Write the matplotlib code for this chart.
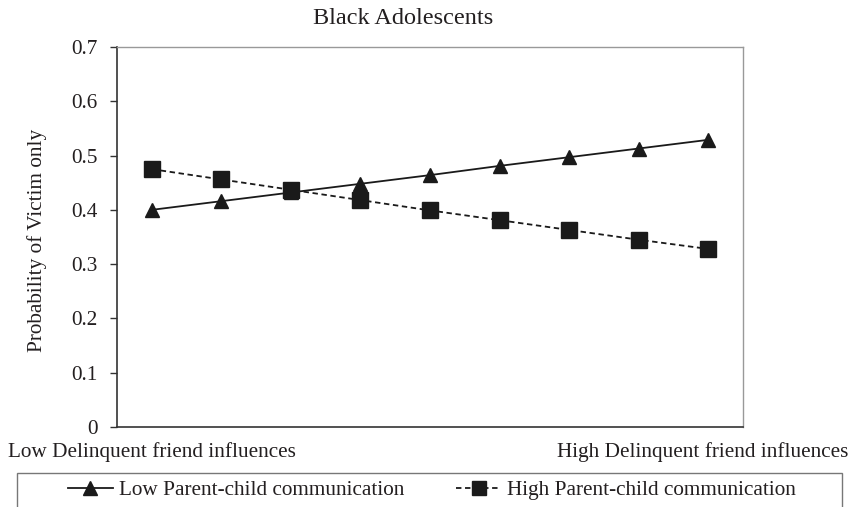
import matplotlib
matplotlib.use("Agg")
import matplotlib.pyplot as plt
from matplotlib.patches import Rectangle

# Data
x_positions = list(range(9))
low_comm = [0.400, 0.416, 0.432, 0.448, 0.464, 0.481, 0.497, 0.513, 0.529]
high_comm = [0.475, 0.456, 0.437, 0.418, 0.399, 0.381, 0.363, 0.345, 0.328]
series_labels = ["Low Parent-child communication", "High Parent-child communication"]
y_ticks = [0, 0.1, 0.2, 0.3, 0.4, 0.5, 0.6, 0.7]
y_tick_labels = ["0", "0.1", "0.2", "0.3", "0.4", "0.5", "0.6", "0.7"]
title = "Black Adolescents"
y_label = "Probability of Victim only"
x_left_label = "Low Delinquent friend influences"
x_right_label = "High Delinquent friend influences"

W, H = 855, 507
plt.rcParams['font.family'] = ['Liberation Serif', 'DejaVu Serif']
FS = 15.3
TFS = 17.5
TXT = "#231f20"
MK = "#1a1a1a"

fig = plt.figure(figsize=(W / 100, H / 100), dpi=100)
ax = fig.add_axes([117 / W, 1 - 427 / H, (743 - 117) / W, (427 - 47) / H])

l1, = ax.plot(x_positions, low_comm, color=MK, lw=1.3, marker="^", markersize=10.5,
              markerfacecolor=MK, markeredgecolor=MK, label=series_labels[0])
l2, = ax.plot(x_positions, high_comm, color=MK, lw=1.3, linestyle=(0, (3, 2)), marker="s",
              markersize=11, markerfacecolor=MK, markeredgecolor=MK, label=series_labels[1])

ax.set_xlim(-0.5, 8.5)
ax.set_ylim(0, 0.7)
ax.set_yticks(y_ticks)
ax.set_yticklabels(y_tick_labels, fontsize=FS, color=TXT)
ax.set_xticks([])
ax.tick_params(axis="y", length=5, width=1, color="#333333", pad=9, direction="out")

for s in ["left", "bottom"]:
    ax.spines[s].set_color("#333333")
    ax.spines[s].set_linewidth(1.2)
for s in ["top", "right"]:
    ax.spines[s].set_color("#999999")
    ax.spines[s].set_linewidth(1.0)

fig.text(403 / W, 1 - 18 / H, title, ha="center", va="center", fontsize=TFS, color=TXT)
fig.text(37 / W, 1 - 240 / H, y_label, ha="center", va="center", rotation=90,
         fontsize=FS, color=TXT)
fig.text(8 / W, 1 - 452 / H, x_left_label, ha="left", va="center", fontsize=FS, color=TXT)
fig.text(848 / W, 1 - 452 / H, x_right_label, ha="right", va="center", fontsize=FS, color=TXT)

# Legend box
fig.patches.append(Rectangle((17 / W, -20 / H), (842 - 17) / W, (20 + 507 - 473) / H,
                             transform=fig.transFigure, fill=False, edgecolor="#777777",
                             linewidth=1.0, clip_on=False))
fig.legend([l1, l2], series_labels, loc="center left", bbox_to_anchor=(68 / W, 1 - 490 / H),
           ncol=2, frameon=False, borderpad=0, borderaxespad=0, fontsize=FS,
           handlelength=2.1, handletextpad=0.3, columnspacing=2.45, markerscale=0.9,
           labelcolor=TXT)

fig.savefig("out.png", dpi=100)
